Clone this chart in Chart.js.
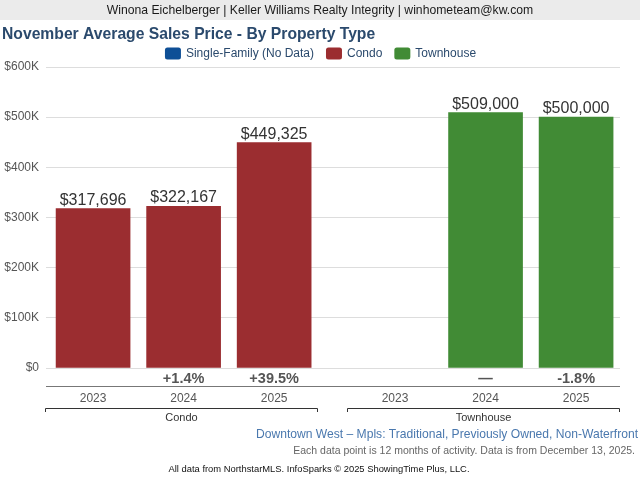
<!DOCTYPE html>
<html><head><meta charset="utf-8">
<script src="https://cdn.jsdelivr.net/npm/chart.js@4"></script>
<style>html,body{margin:0;padding:0;background:#fff}#wrap{width:640px;height:480px;position:relative}</style>
</head><body><div id="wrap"><canvas id="c" width="640" height="480"></canvas></div>
<script>
const headerText = "Winona Eichelberger | Keller Williams Realty Integrity | winhometeam@kw.com";
const titleText = "November Average Sales Price - By Property Type";
const legendLabels = ["Single-Family (No Data)", "Condo", "Townhouse"];
const legendColors = ["#0e4f96", "#9b2d30", "#418b35"];
const years = ["2023", "2024", "2025"];
const groupNames = ["Condo", "Townhouse"];
const condoValues = [317696, 322167, 449325];
const townhouseValues = [null, 509000, 500000];
const condoChanges = ["", "+1.4%", "+39.5%"];
const townhouseChanges = ["", "\u2014", "-1.8%"];
const footerArea = "Downtown West \u2013 Mpls: Traditional, Previously Owned, Non-Waterfront";
const footerNote = "Each data point is 12 months of activity. Data is from December 13, 2025.";
const footerCredit = "All data from NorthstarMLS. InfoSparks \u00a9 2025 ShowingTime Plus, LLC.";

const FONT = "'Liberation Sans', Arial, Helvetica, sans-serif";
const groupGap = 0.335;
const groupStart = [0, years.length + groupGap];
const seriesChanges = [condoChanges, townhouseChanges];

function toPoints(values, g) {
  return values.map((v, i) => ({ x: groupStart[g] + i, y: v }));
}

const decor = {
  id: 'decor',
  beforeDraw(chart) {
    const ctx = chart.ctx;
    ctx.save();
    ctx.fillStyle = '#ffffff';
    ctx.fillRect(0, 0, chart.width, chart.height);
    ctx.fillStyle = '#ebebeb';
    ctx.fillRect(0, 0, chart.width, 20);
    ctx.fillStyle = '#1a1a1a';
    ctx.font = '12.2px ' + FONT;
    ctx.textAlign = 'center';
    ctx.textBaseline = 'middle';
    ctx.fillText(headerText, 320, 11);
    ctx.fillStyle = '#2b4a6d';
    ctx.font = 'bold 15.7px ' + FONT;
    ctx.textAlign = 'left';
    ctx.fillText(titleText, 2, 35);
    ctx.font = '12px ' + FONT;
    const bw = 16, bh = 12, gapText = 5, gapItem = 12;
    const widths = legendLabels.map(t => bw + gapText + ctx.measureText(t).width);
    const total = widths.reduce((a, b) => a + b, 0) + gapItem * (widths.length - 1);
    let x = 320.5 - total / 2;
    legendLabels.forEach((t, i) => {
      ctx.fillStyle = legendColors[i];
      ctx.beginPath();
      ctx.roundRect(x, 47.5, bw, bh, 2.5);
      ctx.fill();
      ctx.fillStyle = '#2b4a6d';
      ctx.fillText(t, x + bw + gapText, 54);
      x += widths[i] + gapItem;
    });
    ctx.restore();
  },
  afterDatasetsDraw(chart) {
    const ctx = chart.ctx;
    ctx.save();
    ctx.font = '16px ' + FONT;
    ctx.fillStyle = '#333333';
    ctx.textAlign = 'center';
    ctx.textBaseline = 'alphabetic';
    chart.data.datasets.forEach((ds, di) => {
      const meta = chart.getDatasetMeta(di);
      meta.data.forEach((el, i) => {
        const v = ds.data[i].y;
        if (v === null || v === undefined) return;
        ctx.fillText('$' + v.toLocaleString('en-US'), el.x, el.y - 4);
      });
    });
    ctx.restore();
  },
  afterDraw(chart) {
    const ctx = chart.ctx;
    const xs = chart.scales.x;
    const area = chart.chartArea;
    ctx.save();
    ctx.textAlign = 'center';
    ctx.textBaseline = 'middle';
    seriesChanges.forEach((arr, g) => {
      arr.forEach((t, i) => {
        const px = xs.getPixelForValue(groupStart[g] + i);
        ctx.fillStyle = '#555555';
        ctx.font = 'bold 14.5px ' + FONT;
        if (t) ctx.fillText(t, px, 379);
      });
    });
    ctx.strokeStyle = '#777777';
    ctx.lineWidth = 1;
    ctx.beginPath();
    ctx.moveTo(area.left, 386.5);
    ctx.lineTo(area.right, 386.5);
    ctx.stroke();
    groupNames.forEach((name, g) => {
      ctx.fillStyle = '#555555';
      ctx.font = '12px ' + FONT;
      years.forEach((y, i) => {
        ctx.fillText(y, xs.getPixelForValue(groupStart[g] + i), 398.5);
      });
      const l = Math.round(xs.getPixelForValue(groupStart[g] - 0.5)) - 2.5;
      const r = Math.round(xs.getPixelForValue(groupStart[g] + years.length - 0.5)) - 1.5;
      ctx.strokeStyle = '#333333';
      ctx.beginPath();
      ctx.moveTo(l, 412);
      ctx.lineTo(l, 408.5);
      ctx.lineTo(r, 408.5);
      ctx.lineTo(r, 412);
      ctx.stroke();
      ctx.fillStyle = '#333333';
      ctx.font = '11px ' + FONT;
      ctx.fillText(name, (l + r) / 2, 418);
    });
    ctx.textAlign = 'right';
    ctx.fillStyle = '#4a78ae';
    ctx.font = '12.1px ' + FONT;
    ctx.fillText(footerArea, 638, 435);
    ctx.fillStyle = '#666666';
    ctx.font = '10.5px ' + FONT;
    ctx.fillText(footerNote, 635, 451);
    ctx.textAlign = 'center';
    ctx.fillStyle = '#111111';
    ctx.font = '9.4px ' + FONT;
    ctx.fillText(footerCredit, 319, 469.5);
    ctx.restore();
  }
};

new Chart(document.getElementById('c'), {
  type: 'bar',
  data: {
    datasets: [
      { label: groupNames[0], data: toPoints(condoValues, 0), backgroundColor: legendColors[1] },
      { label: groupNames[1], data: toPoints(townhouseValues, 1), backgroundColor: legendColors[2] }
    ]
  },
  options: {
    responsive: false,
    animation: false,
    devicePixelRatio: 1,
    layout: { padding: { top: 67, bottom: 112, left: 2, right: 20 } },
    datasets: { bar: { barThickness: 74, grouped: false } },
    plugins: { legend: { display: false }, title: { display: false }, tooltip: { enabled: false } },
    scales: {
      x: { type: 'linear', min: -0.52, max: 5.82, offset: false, display: false },
      y: {
        min: 0, max: 600000,
        afterFit(s) { s.width = 44; },
        ticks: {
          stepSize: 100000,
          padding: 7,
          color: '#555555',
          font: { family: FONT, size: 12 },
          callback: v => v === 0 ? '$0' : '$' + (v / 1000) + 'K'
        },
        grid: { color: '#dddddd', drawTicks: false },
        border: { display: false }
      }
    }
  },
  plugins: [decor]
});
</script></body></html>
